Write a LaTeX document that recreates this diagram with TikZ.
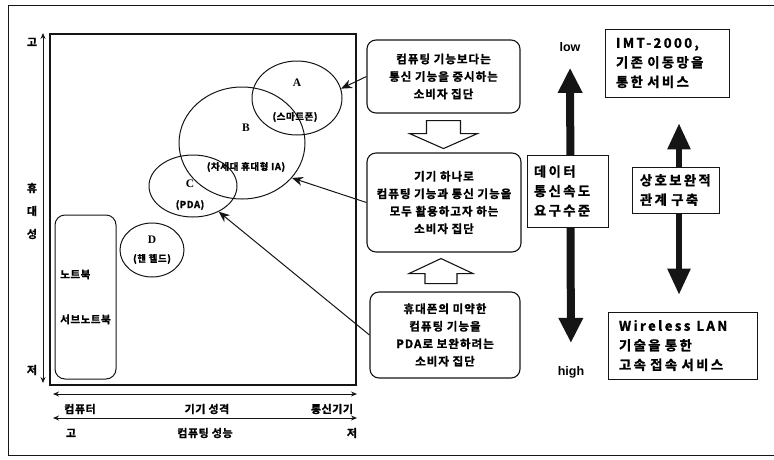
\documentclass[tikz,border=0pt]{standalone}
\usepackage{fontspec}
\usepackage{tikz}
\usetikzlibrary{arrows.meta,positioning,shapes,calc}
\setmainfont{Noto Sans CJK KR Bold}
\newfontfamily\krbox{Noto Sans CJK KR Bold}[FakeBold=1.3,LetterSpace=9]
\newfontfamily\kraxis{Noto Sans CJK KR Bold}[FakeBold=1.3,LetterSpace=5]
\newfontfamily\krsub{Noto Sans CJK KR Bold}[FakeBold=1.2,LetterSpace=6]
\newfontfamily\krwide{Noto Sans CJK KR Bold}[FakeBold=1.5,LetterSpace=18]
\newfontfamily\latbold{Liberation Serif Bold}
\newfontfamily\sansbold{Liberation Sans Bold}
\definecolor{ink}{HTML}{151515}
\tikzset{
  segbox/.style={draw=ink,line width=1.1pt,rounded corners=9pt,align=center,
                 inner sep=2pt,font=\krbox\fontsize{11.5}{17.5}\selectfont},
  infobox/.style={draw=ink,line width=0.7pt,fill=white,align=left,
                  inner ysep=3pt,font=\krwide\fontsize{13.3}{19.5}\selectfont},
  blob/.style={ellipse,draw=ink,line width=1pt,inner sep=0pt},
  tag/.style={inner sep=0pt,font=\latbold\fontsize{11.5}{11.5}\selectfont},
  subtag/.style={inner sep=0pt,font=\krsub\fontsize{9.5}{9.5}\selectfont},
  axlbl/.style={inner sep=0pt,font=\kraxis\fontsize{11}{11}\selectfont},
  axarr/.style={{Stealth[length=6pt,width=5pt]}-{Stealth[length=6pt,width=5pt]},
                line width=0.9pt,draw=ink},
  ptarr/.style={-{Stealth[length=11pt,width=9pt]},line width=1pt,draw=ink},
  hollow/.style={draw=ink,line width=1.1pt,fill=white,line join=miter},
  fatarr/.style={{Triangle[length=25pt,width=23pt]}-{Triangle[length=25pt,width=23pt]},
                 line width=8pt,draw=ink},
  midarr/.style={{Triangle[length=26pt,width=22pt]}-{Triangle[length=26pt,width=22pt]},
                 line width=5.5pt,draw=ink}
}
\begin{document}
\begin{tikzpicture}[x=1pt,y=-1pt]
    \path[use as bounding box] (0,0) rectangle (774,459);
    \draw[ink,line width=0.8pt] (774,5) -- (8,5) -- (8,455) -- (774,455);

    % positioning map
    \draw[ink,line width=1.2pt] (50,34) rectangle (356,385);
    \node[draw=ink,line width=1pt,rounded corners=10pt,minimum width=61pt,
          minimum height=164pt,align=left,inner sep=2pt,
          font=\kraxis\fontsize{10.5}{16}\selectfont] (nb) at (85.5,297)
      {노트북\\[29pt]서브노트북};

    \node[blob,minimum width=126pt,minimum height=112pt] (B) at (242,143) {};
    \node[blob,minimum width=90pt,minimum height=74pt] (A) at (297,98) {};
    \node[blob,minimum width=88pt,minimum height=62pt] (C) at (193,186) {};
    \node[blob,minimum width=64pt,minimum height=54pt] (D) at (152,250) {};

    \node[tag] (Aname) at (297,83) {A};
    \node[subtag] (Adesc) at (295,117) {(스마트폰)};
    \node[tag] (Bname) at (246,128) {B};
    \node[subtag] (Bdesc) at (246,167) {(차세대 휴대형 IA)};
    \node[tag] (Cname) at (190,184) {C};
    \node[subtag] (Cdesc) at (190,205) {(PDA)};
    \node[tag] (Dname) at (152,240) {D};
    \node[subtag] (Ddesc) at (152,259) {(핸 헬드)};

    % axes
    \node[axlbl] (yhi) at (32,42) {고};
    \node[axlbl,align=center] (ymid) at (32,211) {휴\\[12pt]대\\[12pt]성};
    \node[axlbl] (ylo) at (32,370) {저};
    \draw[axarr] (43,383) -- (43,33);

    \node[axlbl] (xa1) at (80,409) {컴퓨터};
    \node[axlbl] (xa2) at (207,409) {기기 성격};
    \node[axlbl] (xa3) at (332,409) {통신기기};
    \node[axlbl] (xb1) at (71,433) {고};
    \node[axlbl] (xb2) at (205,433) {컴퓨팅 성능};
    \node[axlbl] (xb3) at (352,433) {저};
    \draw[axarr] (53,394) -- (357,394);
    \draw[axarr] (53,418) -- (357,418);

    % consumer groups
    \node[segbox,minimum width=153pt,minimum height=73pt] (seg1) at (443.5,76.5)
      {컴퓨팅 기능보다는\\통신 기능을 중시하는\\소비자 집단};
    \node[segbox,minimum width=154pt,minimum height=99pt] (seg2) at (444,202.5)
      {기기 하나로\\컴퓨팅 기능과 통신 기능을\\모두 활용하고자 하는\\소비자 집단};
    \node[segbox,minimum width=150pt,minimum height=86pt] (seg3) at (445,335)
      {휴대폰의 미약한\\컴퓨팅 기능을\\PDA로 보완하려는\\소비자 집단};

    \draw[hollow] ($(seg1.south)+(-17,7)$) -- ++(34,0) -- ++(0,13) -- ++(17,0)
      -- ++(-34,15) -- ++(-34,-15) -- ++(17,0) -- cycle;
    \draw[hollow] ($(seg2.south)+(-3,6)$) -- ++(32,15) -- ++(-16,0) -- ++(0,10)
      -- ++(-32,0) -- ++(0,-10) -- ++(-16,0) -- cycle;

    \draw[ptarr] (seg1.west) -- (A.12);
    \draw[ptarr] (seg2.west) -- (B.-35);
    \draw[ptarr] (seg3.west) -- (C.-45);

    % data rate
    \node[inner sep=0pt,font=\sansbold\fontsize{12.5}{12.5}\selectfont] (low) at (570,47) {low};
    \node[inner sep=0pt,font=\sansbold\fontsize{12.5}{12.5}\selectfont] (high) at (571,372) {high};
    \draw[fatarr,shorten <=16pt,shorten >=23pt] (low) -- (high);
    \node[infobox,inner xsep=7pt,text width=67pt,minimum height=72pt] (rate) at (567.5,191)
      {데이터\\통신속도\\요구수준};

    \node[infobox,inner xsep=11pt,text width=102pt,minimum height=68pt] (imt) at (667,63)
      {IMT-2000,\\기존 이동망을\\통한 서비스};
    \node[infobox,inner xsep=11pt,text width=127pt,minimum height=67pt] (wlan) at (682.5,345.5)
      {Wireless\hspace{6pt}LAN\\기술을 통한\\고속 접속 서비스};
    \draw[midarr,shorten <=26pt,shorten >=17pt] (imt.south -| 679,0) -- (wlan.north -| 679,0);
    \node[infobox,inner xsep=8pt,text width=71pt,minimum height=46pt] (bond) at (675.5,190)
      {상호보완적\\관계 구축};
\end{tikzpicture}
\end{document}
